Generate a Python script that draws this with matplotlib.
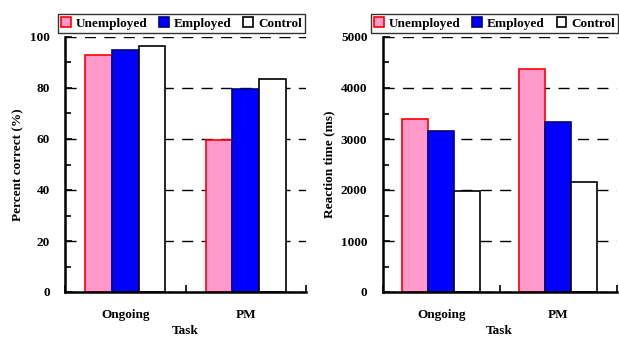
import matplotlib
matplotlib.use("Agg")
import matplotlib.pyplot as plt
from matplotlib.ticker import MultipleLocator
from matplotlib.patches import Patch
import numpy as np

tasks = ["Ongoing", "PM"]
groups = ["Unemployed", "Employed", "Control"]
pct_unemployed = [93.1, 59.6]
pct_employed = [94.9, 79.6]
pct_control = [96.3, 83.5]
rt_unemployed = [3385, 4365]
rt_employed = [3155, 3330]
rt_control = [1990, 2165]

face = ["#FF99CC", "#0000FF", "#FFFFFF"]
edge = ["#FF0000", "#000080", "#000000"]

plt.rcParams['font.family'] = ['Liberation Serif', 'DejaVu Serif']
plt.rcParams['font.weight'] = 'bold'
plt.rcParams['font.size'] = 9.5

fig = plt.figure(figsize=(6.19, 3.38), dpi=100)
ax1 = fig.add_axes([65/619, 1-292/338, (306-65)/619, (292-37)/338])
ax2 = fig.add_axes([382.7/619, 1-292/338, (616.7-382.7)/619, (292-37)/338])

def draw(ax, series, ymax, major, minor, ylabel):
    x = np.arange(len(tasks)) + 0.5
    w = 0.221
    for i, vals in enumerate(series):
        ax.bar(x + (i - 1) * w, vals, w, color=face[i], edgecolor=edge[i],
               linewidth=1.2, zorder=3)
    ax.set_xlim(0, len(tasks))
    ax.set_ylim(0, ymax)
    ax.set_xticks([0, 1, 2])
    ax.set_xticklabels([])
    ax.set_xticks(x, minor=True)
    ax.set_xticklabels(tasks, minor=True, fontweight='bold')
    ax.tick_params(axis='x', which='minor', length=0, pad=12)
    ax.tick_params(axis='x', which='major', direction='in', length=5, width=1.2)
    ax.yaxis.set_major_locator(MultipleLocator(major))
    ax.yaxis.set_minor_locator(MultipleLocator(minor))
    ax.tick_params(axis='y', which='both', direction='in', width=1.2)
    ax.tick_params(axis='y', which='major', length=5, pad=11)
    ax.tick_params(axis='y', which='minor', length=4)
    for lab in ax.get_yticklabels():
        lab.set_fontweight('bold')
    ax.yaxis.grid(True, which='major', linestyle=(0, (8, 6)), color='black',
                  linewidth=1.0, zorder=0)
    ax.set_axisbelow(True)
    for s in ['top', 'right']:
        ax.spines[s].set_visible(False)
    for s in ['left', 'bottom']:
        ax.spines[s].set_linewidth(1.8)
        ax.spines[s].set_zorder(4)
    ax.set_xlabel("Task", fontweight='bold', labelpad=3)
    ax.set_ylabel(ylabel, fontweight='bold', labelpad=4)

draw(ax1, [pct_unemployed, pct_employed, pct_control], 100, 20, 10, "Percent correct (%)")
draw(ax2, [rt_unemployed, rt_employed, rt_control], 5000, 1000, 500, "Reaction time (ms)")

handles = [Patch(facecolor=face[i], edgecolor=edge[i], linewidth=1.2) for i in range(3)]
for ax, anchor, loc in [(ax1, (305/619, 1-33/338), 'lower right'),
                        (ax2, (371/619, 1-33/338), 'lower left')]:
    leg = fig.legend(handles, groups, loc=loc, bbox_to_anchor=anchor, ncol=3,
                     frameon=True, fancybox=False, edgecolor='black',
                     handlelength=0.75, handleheight=0.75, handletextpad=0.35,
                     columnspacing=0.9, borderpad=0.25, borderaxespad=0,
                     prop={'weight': 'bold', 'size': 9.5, 'family': ['Liberation Serif']})
    leg.get_frame().set_linewidth(1.0)

fig.savefig("out.png", dpi=100)
